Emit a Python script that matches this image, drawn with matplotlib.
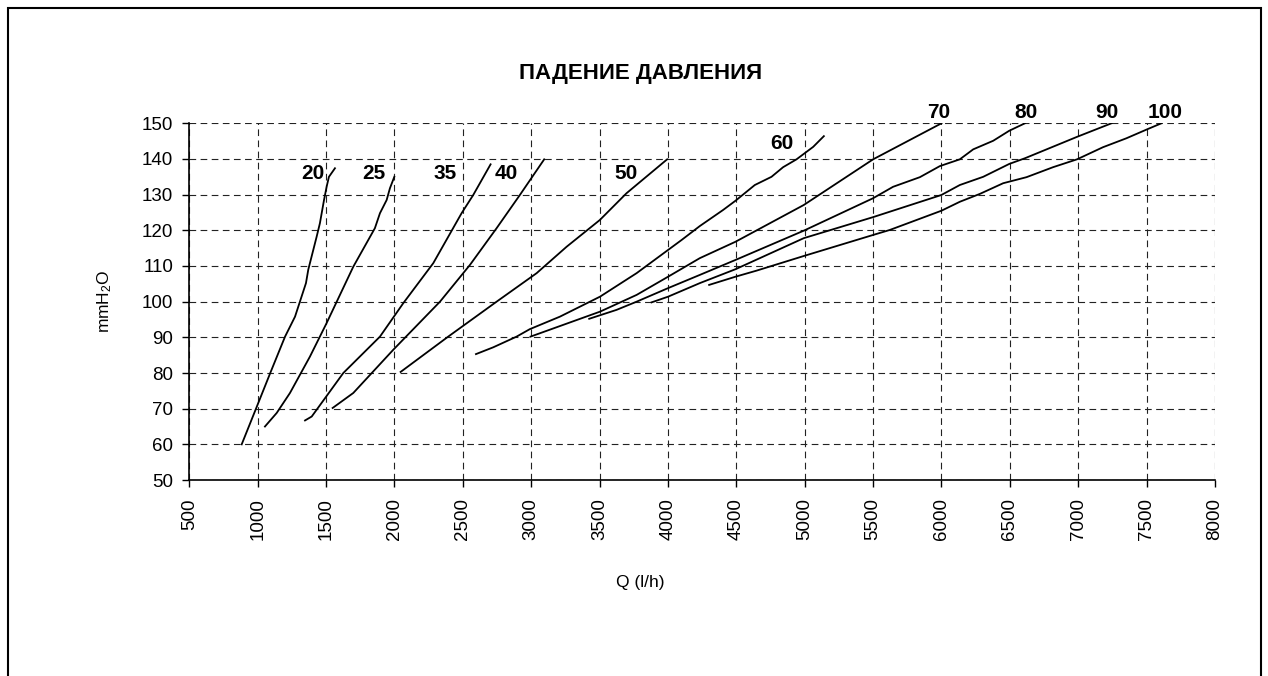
import matplotlib
matplotlib.use("Agg")
import matplotlib.pyplot as plt
from matplotlib.patches import Rectangle

# =========================
# data
# =========================

x_20 = [883, 997, 1095, 1200, 1273, 1353, 1370, 1431, 1455, 1485, 1504, 1521, 1565]
y_20 = [60, 70.9, 80.3, 90.2, 95.8, 105.2, 109, 118.2, 122, 128.5, 132.2, 135, 137.4]

x_25 = [1053, 1139, 1236, 1382, 1504, 1699, 1857, 1894, 1943, 1967, 1999]
y_25 = [65, 68.8, 74.4, 84.6, 94, 109.8, 120.6, 124.8, 128.5, 131.8, 135]

x_35 = [1346, 1395, 1626, 1894, 2065, 2284, 2491, 2576, 2703]
y_35 = [66.7, 67.8, 80, 90.2, 99.6, 110.8, 124.8, 129.9, 138.5]

x_40 = [1548, 1699, 1991, 2333, 2552, 2747, 2917, 3095]
y_40 = [70.2, 74.4, 86.5, 100, 110.3, 120.6, 129.9, 139.9]

x_50 = [2045, 2393, 2747, 3040, 3259, 3502, 3697, 3994]
y_50 = [80.3, 90.2, 100, 108, 115.4, 122.9, 130.4, 139.9]

x_60 = [2596, 2722, 2893, 2990, 3210, 3503, 3771, 4100, 4233, 4403, 4494,
        4635, 4757, 4842, 4940, 5062, 5140]
y_60 = [85.3, 87.2, 90.2, 92.3, 95.8, 101.4, 108, 117.3, 121.2, 125.7, 128.3,
        132.7, 135, 137.7, 139.9, 143.4, 146.4]

x_70 = [2995, 3503, 3771, 4001, 4233, 4494, 4993, 5500, 6000]
y_70 = [90.2, 97.2, 101.9, 107, 112.2, 116.8, 127.1, 139.9, 150]

x_80 = [3424, 3624, 3771, 4001, 4233, 4494, 4993, 5500, 5646, 5842, 5988,
        6134, 6232, 6378, 6495, 6610]
y_80 = [95.2, 97.7, 100, 103.8, 107.5, 111.7, 119.9, 129, 132.2, 134.9, 138,
        139.9, 142.7, 145.1, 147.9, 150]

x_90 = [3880, 4001, 4233, 4494, 4993, 5500, 5999, 6134, 6305, 6495, 6610, 6991, 7243]
y_90 = [99.8, 101.4, 105.2, 109.1, 117.8, 123.7, 129.9, 132.7, 135, 138.6, 140.2, 146.2, 150]

x_100 = [4301, 4494, 4648, 4993, 5500, 5622, 6000, 6134, 6280, 6451, 6622,
         6816, 6991, 7181, 7352, 7503, 7608]
y_100 = [104.7, 107, 108.7, 112.8, 118.7, 120.1, 125.5, 128, 130.2, 133.2, 134.9,
         137.7, 139.9, 143.3, 145.8, 148.3, 150]

curve_names = ["20", "25", "35", "40", "50", "60", "70", "80", "90", "100"]
curve_x = [x_20, x_25, x_35, x_40, x_50, x_60, x_70, x_80, x_90, x_100]
curve_y = [y_20, y_25, y_35, y_40, y_50, y_60, y_70, y_80, y_90, y_100]

# label anchor points (data coords)
label_x = [1402, 1853, 2369, 2815, 3692, 4830, 5983, 6621, 7206, 7632]
label_y = [136, 136, 136, 136, 136, 144.2, 153, 153, 153, 153]

x_ticks = list(range(500, 8001, 500))
y_ticks = list(range(50, 151, 10))

plt.rcParams["font.family"] = ["Liberation Sans", "DejaVu Sans"]
plt.rcParams["mathtext.default"] = "regular"


def main():
    fig = plt.figure(figsize=(12.68, 6.76), dpi=100)
    ax = fig.add_axes([0.1493, 0.2899, 0.8089, 0.5277])

    for xs, ys in zip(curve_x, curve_y):
        ax.plot(xs, ys, color="black", linewidth=1.3, solid_joinstyle="round")

    for name, lx, ly in zip(curve_names, label_x, label_y):
        ax.text(lx, ly, name, ha="center", va="center",
                fontsize=15, fontweight="bold")

    ax.set_xlim(500, 8000)
    ax.set_ylim(50, 150)
    ax.set_xticks(x_ticks)
    ax.set_yticks(y_ticks)
    ax.set_xticklabels([str(t) for t in x_ticks], rotation=90, fontsize=13.5)
    ax.set_yticklabels([str(t) for t in y_ticks], fontsize=13.5)
    ax.tick_params(axis="both", direction="out", length=5, width=1, color="black")
    ax.tick_params(axis="x", pad=8)
    ax.tick_params(axis="y", pad=6.5)

    ax.grid(True, color="#222222", linestyle=(0, (6, 4)), linewidth=0.8)
    ax.set_axisbelow(True)

    ax.spines["top"].set_visible(False)
    ax.spines["right"].set_visible(False)
    ax.spines["left"].set_linewidth(1.2)
    ax.spines["bottom"].set_linewidth(1.2)

    fig.text(0.5047, 0.139, "Q (l/h)", ha="center", va="center", fontsize=12.5)
    fig.text(0.0828, 0.555, "mmH$_2$O", ha="center", va="center",
             rotation=90, fontsize=12.5)

    fig.text(0.505, 0.892, "ПАДЕНИЕ ДАВЛЕНИЯ", ha="center", va="center",
             fontsize=16, fontweight="bold")

    # outer frame
    fig.patches.append(Rectangle((0.0063, -0.1), 0.9882, 1.088,
                                 transform=fig.transFigure, fill=False,
                                 edgecolor="black", linewidth=1.5))

    fig.savefig("out.png", dpi=100)
    plt.close(fig)


if __name__ == "__main__":
    main()
